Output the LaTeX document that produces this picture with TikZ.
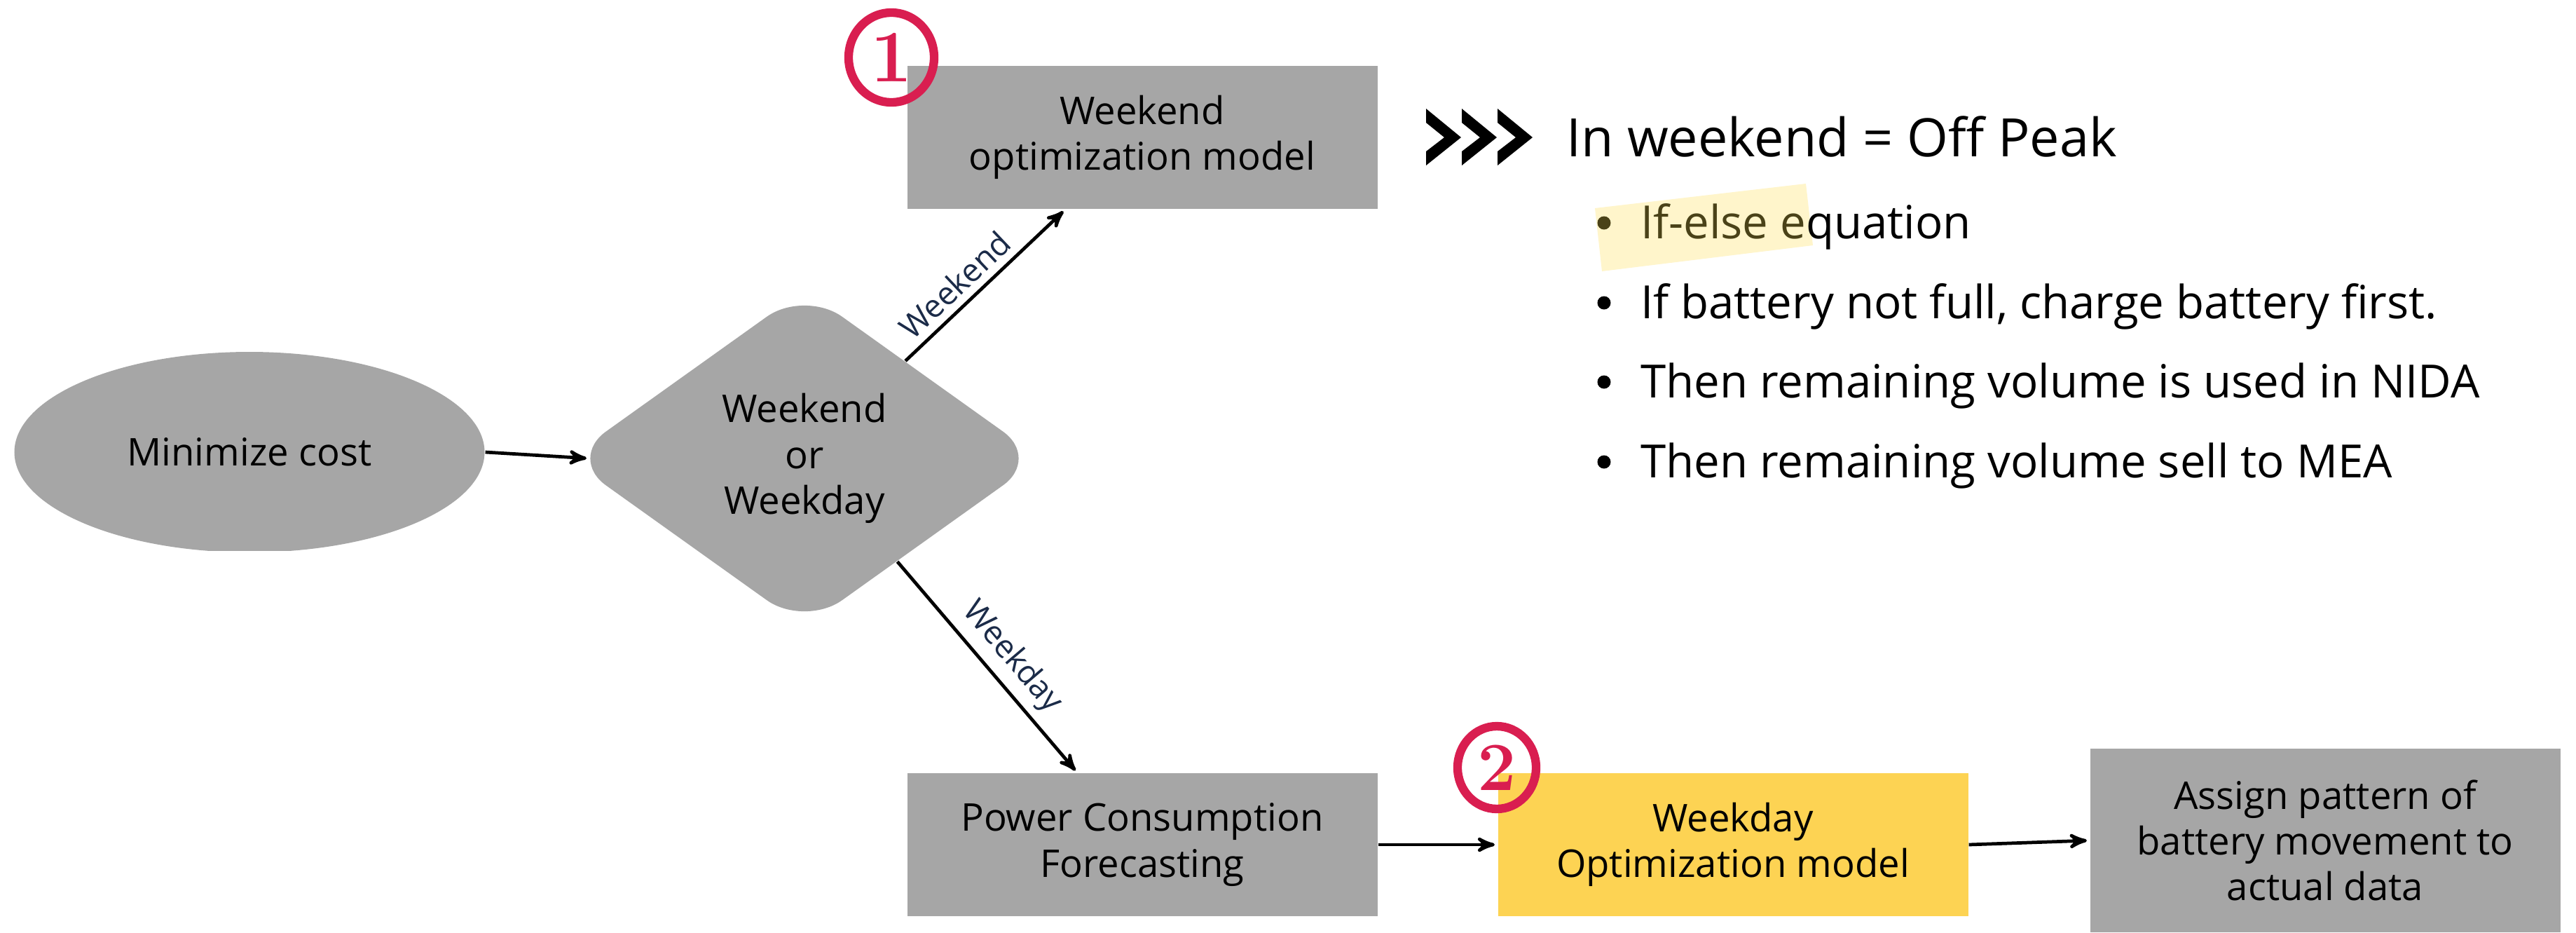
\documentclass[tikz,border=0pt]{standalone}
\usepackage{fontspec}
\setsansfont{Open Sans}
\renewcommand{\familydefault}{\sfdefault}
\usetikzlibrary{arrows,shapes,positioning}
\definecolor{boxgray}{HTML}{A6A6A6}
\definecolor{dayyellow}{HTML}{FDD353}
\definecolor{markred}{HTML}{D91E50}
\definecolor{edgeblue}{HTML}{1B2B48}
\definecolor{hlyellow}{HTML}{FFF5CB}
\definecolor{hltext}{HTML}{4A4218}
\tikzstyle{block} = [rectangle, fill=boxgray, minimum width=6.71cm,
    minimum height=2.04cm, align=center, inner sep=0pt,
    font=\fontsize{15.5}{18.6}\selectfont]
\tikzstyle{decision} = [diamond, fill=boxgray, minimum width=6.75cm,
    minimum height=4.82cm, rounded corners=0.66cm, align=center, inner sep=0pt,
    font=\fontsize{15.5}{18.6}\selectfont]
\tikzstyle{terminal} = [ellipse, fill=boxgray, minimum width=6.71cm,
    minimum height=2.86cm, inner sep=0pt, font=\fontsize{15.5}{18.6}\selectfont]
\tikzstyle{flowarrow} = [->, line width=1.35pt]
\tikzstyle{edgelabel} = [sloped, above, text=edgeblue, inner sep=3pt,
    font=\fontsize{13}{15}\selectfont]
\tikzstyle{numring} = [ellipse, draw=markred, line width=3.5pt, text=markred,
    inner sep=0pt, font=\rmfamily\bfseries\fontsize{30}{30}\selectfont]
\tikzstyle{bulletline} = [anchor=base west, inner sep=0pt,
    font=\fontsize{18.6}{22}\selectfont]

\begin{document}
\begin{tikzpicture}[>=stealth',shorten >=1pt,semithick,font=\sffamily]
  \useasboundingbox (0,0) rectangle (36.76,-13.30);

  % flow chart
  \begin{scope}
    \clip (0,-7.85) rectangle (7.5,-4.5);
    \node[terminal] (cost) at (3.56,-6.45) {Minimize cost};
  \end{scope}
  \node[decision] (dia) at (11.48,-6.54) {Weekend\\or\\Weekday};
  \node[block] (wkend) at (16.30,-1.96) {Weekend\\optimization model};
  \node[block] (power) at (16.30,-12.05) {Power Consumption\\Forecasting};
  \node[block,fill=dayyellow] (wday) [right of=power,node distance=8.43cm]
        {Weekday\\Optimization model};
  \node[block,minimum height=2.62cm] (assign) [right of=wday,node distance=8.45cm,yshift=0.06cm]
        {Assign pattern of\\battery movement to\\actual data};

  \draw[flowarrow] (cost.east) -- ([xshift=0.31cm]dia.west);
  \draw[flowarrow] (dia.44) -- node[edgelabel,pos=0.4] {Weekend} ([xshift=-1.10cm]wkend.south);
  \draw[flowarrow] (dia.-48) -- node[edgelabel,pos=0.53] {Weekday} ([xshift=-0.93cm]power.north);
  \draw[flowarrow] (power.east) -- (wday.west);
  \draw[flowarrow] (wday.east) -- (assign.west);

  % step marks
  \node[numring,minimum width=1.22cm,minimum height=1.28cm] (one) at (12.72,-0.82) {1};
  \node[numring,minimum width=1.12cm,minimum height=1.18cm,
        font=\rmfamily\bfseries\fontsize{28}{28}\selectfont] (two) at (21.36,-10.95) {2};

  % weekend rule
  \fill (20.35,-1.55) -- (20.85,-1.96) -- (20.35,-2.36) -- (20.35,-2.16) -- (20.61,-1.96) -- (20.35,-1.75) -- cycle;
  \fill (20.86,-1.55) -- (21.36,-1.96) -- (20.86,-2.36) -- (20.86,-2.16) -- (21.12,-1.96) -- (20.86,-1.75) -- cycle;
  \fill (21.37,-1.55) -- (21.87,-1.96) -- (21.37,-2.36) -- (21.37,-2.16) -- (21.63,-1.96) -- (21.37,-1.75) -- cycle;
  \node[anchor=base west,inner sep=0pt,font=\fontsize{21.5}{26}\selectfont] (title)
        at (22.34,-2.23) {In weekend = Off Peak};

  \fill[hlyellow] (22.76,-2.97) -- (25.77,-2.62) -- (25.87,-3.50) -- (22.86,-3.87) -- cycle;
  \node[bulletline,text=hltext] (l1) at (23.40,-3.40) {If-else e\textcolor{black}{quation}};
  \node[bulletline] (l2) at ([yshift=-1.14cm]l1.base west) {If battery not full, charge battery first.};
  \node[bulletline] (l3) at ([yshift=-1.13cm]l2.base west) {Then remaining volume is used in NIDA};
  \node[bulletline] (l4) at ([yshift=-1.14cm]l3.base west) {Then remaining volume sell to MEA};
  % bullets
  \fill[hltext] ([xshift=-0.51cm,yshift=0.22cm]l1.base west) circle (0.095cm);
  \fill ([xshift=-0.51cm,yshift=0.22cm]l2.base west) circle (0.095cm);
  \fill ([xshift=-0.51cm,yshift=0.22cm]l3.base west) circle (0.095cm);
  \fill ([xshift=-0.51cm,yshift=0.22cm]l4.base west) circle (0.095cm);
\end{tikzpicture}
\end{document}
